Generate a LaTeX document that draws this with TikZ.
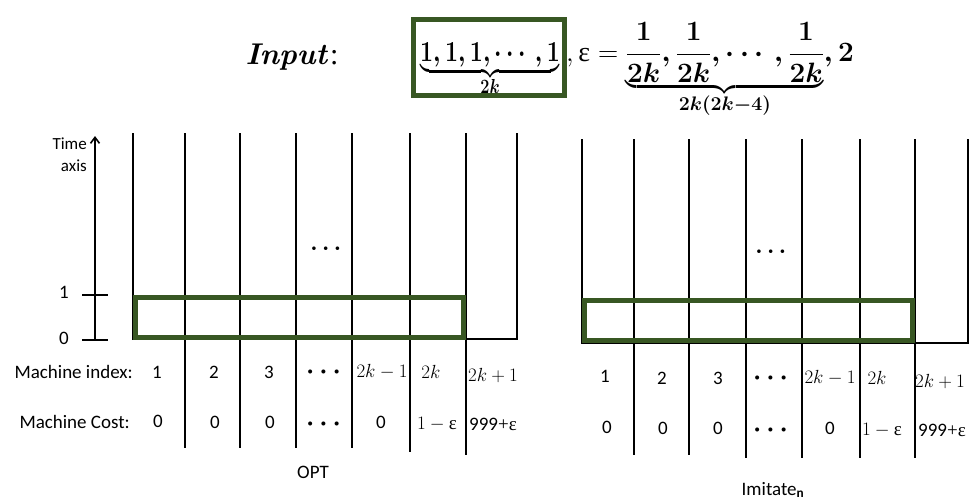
\RequirePackage{fix-cm}
\documentclass[tikz,border=0pt]{standalone}
\usepackage{amsmath}
\usepackage[no-math]{fontspec}
\setmainfont{Carlito}
\newfontfamily\serifgr{Liberation Serif}
\newcommand\ueps{\mbox{\serifgr ε}}
\usetikzlibrary{arrows.meta}
\definecolor{dkgreen}{HTML}{385723}
\begin{document}
\begin{tikzpicture}[x=1pt,y=-1pt,
  col/.style={line width=1.3pt, black},
  colb/.style={line width=1.9pt, black},
  gbox/.style={draw=dkgreen, line width=5pt},
  lbl/.style={font=\fontsize{19}{22}\selectfont, inner sep=0pt},
  bigdots/.style={font=\fontsize{26}{26}\selectfont, inner sep=0pt},
  middots/.style={font=\fontsize{23}{23}\selectfont, inner sep=0pt},
  axtick/.style={line width=2.6pt, black}]
\useasboundingbox (0,0) rectangle (976,501);
% ---------- title ----------
\node[font=\fontsize{30}{34}\selectfont, inner sep=0pt] (inp) at (292,57) {$\boldsymbol{\mathit{Input}}${\serifgr :}};
\draw[gbox] (413.5,19.5) rectangle (564.5,95.5);
\node[font=\fontsize{29}{34}\selectfont, inner sep=0pt, anchor=base] (ones) at (490,61)
  {\scalebox{0.8}[1]{$\boldsymbol{\underbrace{1,1,1,\cdots,1}_{2k}}$}};
\node[font=\fontsize{28}{34}\selectfont, inner sep=0pt, anchor=base west] (rest) at (566,61)
  {$,\ueps=\boldsymbol{\underbrace{\dfrac{1}{2k},\dfrac{1}{2k},\cdots,\dfrac{1}{2k}}_{2k(2k-4)},2}$};
% ---------- time axis ----------
\draw[line width=1.6pt, -{Straight Barb[length=6pt,width=9pt]}] (95,340) -- (95,136);
\draw[axtick] (82,295) -- (108,295);
\draw[axtick] (82,340) -- (108,340);
\node[lbl, anchor=east] (one) at (69,292) {1};
\node[lbl, anchor=east] (zero) at (69,338) {0};
\node[lbl, anchor=north east, align=right, font=\fontsize{17}{22}\selectfont] (time) at (87,138) {Time\\axis};
% ---------- left panel (OPT) ----------
\foreach \x/\yb in {185/448,240/448,296/448,352/448,410/452}
  \draw[col] (\x,133) -- (\x,\yb);
\draw[colb] (466,133) -- (466,455);
\draw[colb] (133,133) -- (133,339) -- (517,339) -- (517,133);
\draw[gbox] (135.5,297.5) rectangle (463.5,337.5);
\node[middots] (ldots) at (328,249) {$\boldsymbol{\cdots}$};
\node[lbl, anchor=east] (mi) at (133,372) {Machine index:};
\node[lbl, anchor=east] (mc) at (130,422) {Machine Cost:};
\node[lbl] (li1) at (157,372) {1};
\node[lbl] (li2) at (214,372) {2};
\node[lbl] (li3) at (269,372) {3};
\node[bigdots] (li4) at (326,372) {$\boldsymbol{\cdots}$};
\node[lbl] (li5) at (382,372) {$2k-1$};
\node[lbl] (li6) at (431,372) {$2k$};
\node[lbl] (li7) at (493,375) {$2k+1$};
\node[lbl] (lc1) at (158,421) {0};
\node[lbl] (lc2) at (215,422) {0};
\node[lbl] (lc3) at (270,422) {0};
\node[bigdots] (lc4) at (326,424) {$\boldsymbol{\cdots}$};
\node[lbl] (lc5) at (381,422) {0};
\node[lbl] (lc6) at (437,424) {$1-\ueps$};
\node[lbl] (lc7) at (493,424) {999{\serifgr +ε}};
\node[lbl] (opt) at (313,472) {OPT};
% ---------- right panel (Imitate) ----------
\foreach \x/\yb in {634/455,689/455,746/458,802/458,860/458}
  \draw[col] (\x,139) -- (\x,\yb);
\draw[colb] (915,139) -- (915,458);
\draw[colb] (582,139) -- (582,343) -- (968,343) -- (968,139);
\draw[gbox] (584.5,300) rectangle (912.5,340);
\node[middots] (rdots) at (773,252) {$\boldsymbol{\cdots}$};
\node[lbl] (ri1) at (605,376) {1};
\node[lbl] (ri2) at (662,378) {2};
\node[lbl] (ri3) at (718,378) {3};
\node[bigdots] (ri4) at (773,378) {$\boldsymbol{\cdots}$};
\node[lbl] (ri5) at (830,378) {$2k-1$};
\node[lbl] (ri6) at (877,378) {$2k$};
\node[lbl] (ri7) at (940,381) {$2k+1$};
\node[lbl] (rc1) at (607,427) {0};
\node[lbl] (rc2) at (663,428) {0};
\node[lbl] (rc3) at (718,428) {0};
\node[bigdots] (rc4) at (773,430) {$\boldsymbol{\cdots}$};
\node[lbl] (rc5) at (830,428) {0};
\node[lbl] (rc6) at (882,430) {$1-\ueps$};
\node[lbl] (rc7) at (942,430) {999{\serifgr +ε}};
\node[lbl] (imit) at (773,490) {Imitate\textsubscript{\textbf{n}}};
\end{tikzpicture}
\end{document}
